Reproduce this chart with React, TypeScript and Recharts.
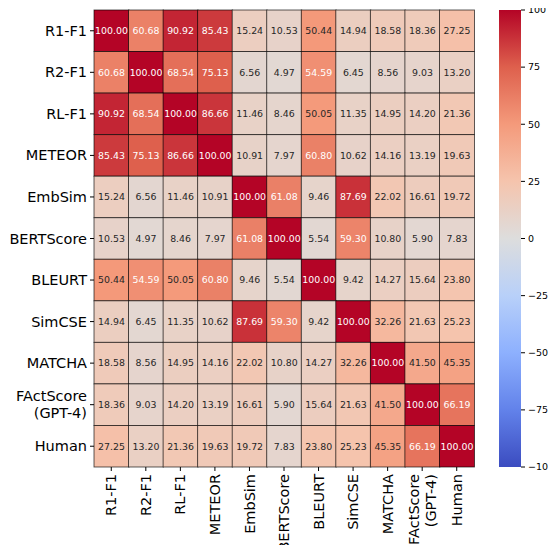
import React from 'react';
import { BarChart, Bar, XAxis, YAxis } from 'recharts';

// metric names (rows top->bottom, columns left->right)
const metrics = [
  'R1-F1', 'R2-F1', 'RL-F1', 'METEOR', 'EmbSim', 'BERTScore',
  'BLEURT', 'SimCSE', 'MATCHA', 'FActScore\n(GPT-4)', 'Human',
];

const rowR1F1 = [100.0, 60.68, 90.92, 85.43, 15.24, 10.53, 50.44, 14.94, 18.58, 18.36, 27.25];
const rowR2F1 = [60.68, 100.0, 68.54, 75.13, 6.56, 4.97, 54.59, 6.45, 8.56, 9.03, 13.2];
const rowRLF1 = [90.92, 68.54, 100.0, 86.66, 11.46, 8.46, 50.05, 11.35, 14.95, 14.2, 21.36];
const rowMeteor = [85.43, 75.13, 86.66, 100.0, 10.91, 7.97, 60.8, 10.62, 14.16, 13.19, 19.63];
const rowEmbSim = [15.24, 6.56, 11.46, 10.91, 100.0, 61.08, 9.46, 87.69, 22.02, 16.61, 19.72];
const rowBertScore = [10.53, 4.97, 8.46, 7.97, 61.08, 100.0, 5.54, 59.3, 10.8, 5.9, 7.83];
const rowBleurt = [50.44, 54.59, 50.05, 60.8, 9.46, 5.54, 100.0, 9.42, 14.27, 15.64, 23.8];
const rowSimCSE = [14.94, 6.45, 11.35, 10.62, 87.69, 59.3, 9.42, 100.0, 32.26, 21.63, 25.23];
const rowMatcha = [18.58, 8.56, 14.95, 14.16, 22.02, 10.8, 14.27, 32.26, 100.0, 41.5, 45.35];
const rowFActScore = [18.36, 9.03, 14.2, 13.19, 16.61, 5.9, 15.64, 21.63, 41.5, 100.0, 66.19];
const rowHuman = [27.25, 13.2, 21.36, 19.63, 19.72, 7.83, 23.8, 25.23, 45.35, 66.19, 100.0];

const matrix = [
  rowR1F1, rowR2F1, rowRLF1, rowMeteor, rowEmbSim, rowBertScore,
  rowBleurt, rowSimCSE, rowMatcha, rowFActScore, rowHuman,
];

const colorbarTicks = [-100, -75, -50, -25, 0, 25, 50, 75, 100];

const FONT = '"DejaVu Sans", sans-serif';

// matplotlib coolwarm, sampled
const coolwarmStops: Array<[number, number, number, number]> = [
  [0.0, 59, 76, 192],
  [0.125, 98, 130, 234],
  [0.25, 141, 176, 254],
  [0.375, 184, 208, 249],
  [0.5, 221, 221, 221],
  [0.625, 245, 196, 173],
  [0.75, 244, 154, 123],
  [0.875, 222, 96, 77],
  [1.0, 180, 4, 38],
];

function coolwarm(v: number): [number, number, number] {
  const t = Math.max(0, Math.min(1, (v + 100) / 200));
  for (let i = 1; i < coolwarmStops.length; i++) {
    const a = coolwarmStops[i - 1];
    const b = coolwarmStops[i];
    if (t <= b[0]) {
      const f = (t - a[0]) / (b[0] - a[0]);
      return [a[1] + (b[1] - a[1]) * f, a[2] + (b[2] - a[2]) * f, a[3] + (b[3] - a[3]) * f];
    }
  }
  const last = coolwarmStops[coolwarmStops.length - 1];
  return [last[1], last[2], last[3]];
}

const rgbStr = (c: number[]) => `rgb(${Math.round(c[0])},${Math.round(c[1])},${Math.round(c[2])})`;

// seaborn picks white text on dark cells
function textColor(c: number[]) {
  const lin = c.map((x) => {
    const s = x / 255;
    return s <= 0.03928 ? s / 12.92 : Math.pow((s + 0.055) / 1.055, 2.4);
  });
  const lum = 0.2126 * lin[0] + 0.7152 * lin[1] + 0.0722 * lin[2];
  return lum > 0.408 ? 'rgb(38,38,38)' : '#ffffff';
}

// one stacked unit per row, one category per column
const tableData = metrics.map((m) => {
  const d: any = { col: m };
  matrix.forEach((_, r) => {
    d[`r${r}`] = 1;
  });
  return d;
});

const colorbarData = [{ name: 'cb', range: [-100, 100] }];

const cellShape = (row: number) => (props: any) => {
  const { x, y, width, height, index } = props;
  const v = matrix[row][index];
  const c = coolwarm(v);
  const top = Math.min(y, y + height);
  const h = Math.abs(height);
  return (
    <g>
      <rect x={x} y={top} width={width} height={h} fill={rgbStr(c)} stroke="#000" strokeOpacity={0.7} strokeWidth={0.9} />
      <text
        x={x + width / 2}
        y={top + h / 2}
        dy="0.35em"
        textAnchor="middle"
        fontSize={9.4}
        fontFamily={FONT}
        fill={textColor(c)}
      >
        {v.toFixed(2)}
      </text>
    </g>
  );
};

const YTick = (props: any) => {
  const { x, y, payload } = props;
  const lines = metrics[Math.round(payload.value - 0.5)].split('\n');
  return (
    <text x={x} y={y} textAnchor="end" fontSize={14.5} fontFamily={FONT} fill="#000">
      {lines.map((l, i) => (
        <tspan key={i} x={x} dy={i === 0 ? `${0.35 - (lines.length - 1) * 0.6}em` : '1.2em'}>
          {l}
        </tspan>
      ))}
    </text>
  );
};

const XTick = (props: any) => {
  const { x, y, payload } = props;
  const lines = String(payload.value).split('\n');
  return (
    <g transform={`translate(${x},${y})`}>
      <text transform="rotate(-90)" textAnchor="end" fontSize={14.5} fontFamily={FONT} fill="#000">
        {lines.map((l, i) => (
          <tspan key={i} x={0} dy={i === 0 ? `${0.35 - (lines.length - 1) * 0.6}em` : '1.2em'}>
            {l}
          </tspan>
        ))}
      </text>
    </g>
  );
};

const ColorbarTick = (props: any) => {
  const { x, y, payload } = props;
  const v = payload.value as number;
  const label = v < 0 ? `\u2212${Math.abs(v)}` : `${v}`;
  return (
    <text x={x} y={y} dy="0.35em" textAnchor="start" fontSize={9.5} fontFamily={FONT} fill="#000">
      {label}
    </text>
  );
};

export default function App() {
  return (
    <div style={{ position: 'relative', width: 540, height: 537 }}>
      <style>{'svg.recharts-surface { overflow: visible; }'}</style>
      <div style={{ position: 'absolute', left: 0, top: 0 }}>
        <BarChart
          width={466}
          height={545}
          data={tableData}
          margin={{ top: 2, right: 0, bottom: 0, left: 6 }}
          barCategoryGap={0}
          barGap={0}
        >
          <XAxis
            dataKey="col"
            type="category"
            interval={0}
            height={86}
            axisLine={false}
            tickLine={{ stroke: '#000' }}
            tickSize={4}
            tickMargin={3}
            tick={<XTick />}
          />
          <YAxis
            type="number"
            domain={[0, 11]}
            reversed
            ticks={metrics.map((_, i) => i + 0.5)}
            interval={0}
            width={80}
            axisLine={false}
            tickLine={{ stroke: '#000' }}
            tickSize={4}
            tickMargin={3}
            tick={<YTick />}
          />
          {metrics.map((_, r) => (
            <Bar key={r} dataKey={`r${r}`} stackId="heat" isAnimationActive={false} shape={cellShape(r)} />
          ))}
        </BarChart>
      </div>
      <div style={{ position: 'absolute', left: 466, top: 0 }}>
        <BarChart
          width={82}
          height={545}
          data={colorbarData}
          margin={{ top: 2, right: 0, bottom: 86, left: 25 }}
          barCategoryGap={0}
        >
          <defs>
            <linearGradient id="cwGrad" x1="0" y1="1" x2="0" y2="0">
              {coolwarmStops.map((s) => (
                <stop key={s[0]} offset={s[0]} stopColor={rgbStr([s[1], s[2], s[3]])} />
              ))}
            </linearGradient>
          </defs>
          <XAxis dataKey="name" hide />
          <YAxis
            orientation="right"
            type="number"
            domain={[-100, 100]}
            ticks={colorbarTicks}
            interval={0}
            width={35}
            axisLine={false}
            tickLine={{ stroke: '#000' }}
            tickSize={4}
            tickMargin={3}
            tick={<ColorbarTick />}
          />
          <Bar dataKey="range" fill="url(#cwGrad)" isAnimationActive={false} />
        </BarChart>
      </div>
    </div>
  );
}
